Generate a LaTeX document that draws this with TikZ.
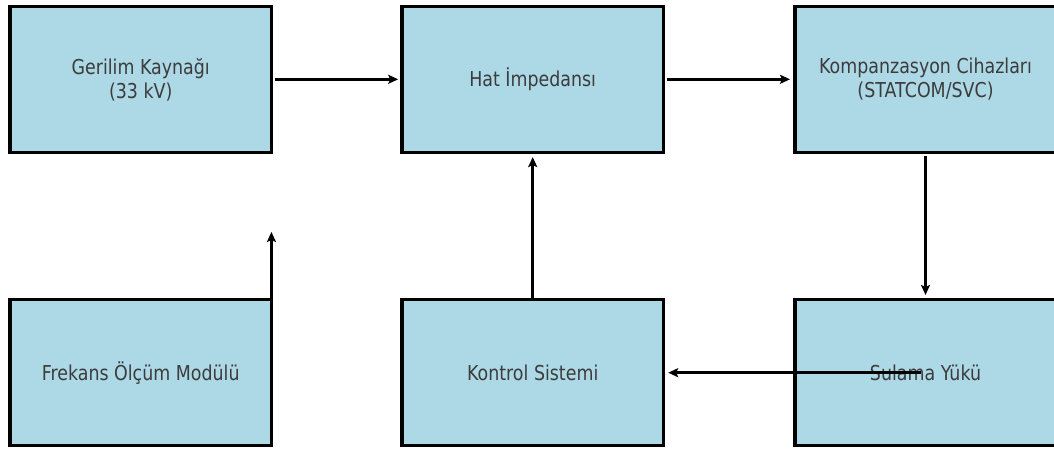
\documentclass[tikz,border=0pt]{standalone}
\usepackage{fontspec}
\setmainfont{DejaVu Sans}[FakeStretch=0.85]
\usetikzlibrary{arrows.meta,calc}
\definecolor{boxfill}{HTML}{ADD8E6}
\definecolor{txt}{HTML}{3C3C3C}
\begin{document}
\begin{tikzpicture}[x=1pt,y=-1pt,
  blockbox/.style={draw=black, line width=3.5pt, fill=boxfill,
    minimum width=261.5pt, minimum height=146pt, align=center,
    text=txt, font=\fontsize{20.5pt}{24pt}\selectfont, inner sep=0pt},
  conn/.style={line width=2.5pt, -{Stealth[length=10pt,width=9pt,inset=2pt]}}]
\useasboundingbox (0,0) rectangle (1054,448);
\node[blockbox] (gerilim) at (140.7,79.3) {Gerilim Kaynağı\\(33 kV)};
\node[blockbox] (hat) at (532.7,79.3) {Hat İmpedansı};
\node[blockbox] (komp) at (925.5,79.3) {Kompanzasyon Cihazları\\(STATCOM/SVC)};
\node[blockbox] (frek) at (140.7,372.7) {Frekans Ölçüm Modülü};
\node[blockbox] (kontrol) at (532.7,372.7) {Kontrol Sistemi};
\node[blockbox] (sulama) at (925.5,372.7) {Sulama Yükü};
\coordinate (frekbase) at ($(frek.north east)+(-1.75,0)$);
\coordinate (frektip) at ($(frekbase)+(0,-66)$);
\draw[conn, shorten <=2pt, shorten >=2pt] (gerilim.east) -- (hat.west);
\draw[conn, shorten <=2pt, shorten >=3pt] (hat.east) -- (komp.west);
\draw[conn, shorten <=2pt, shorten >=3pt] (komp.south) -- (sulama.north);
\draw[conn, shorten >=3pt] (kontrol.north) -- (hat.south);
\draw[conn] (frekbase) -- (frektip);
\draw[conn, shorten <=5pt, shorten >=3pt] (sulama.center) -- (kontrol.east);
\end{tikzpicture}
\end{document}
